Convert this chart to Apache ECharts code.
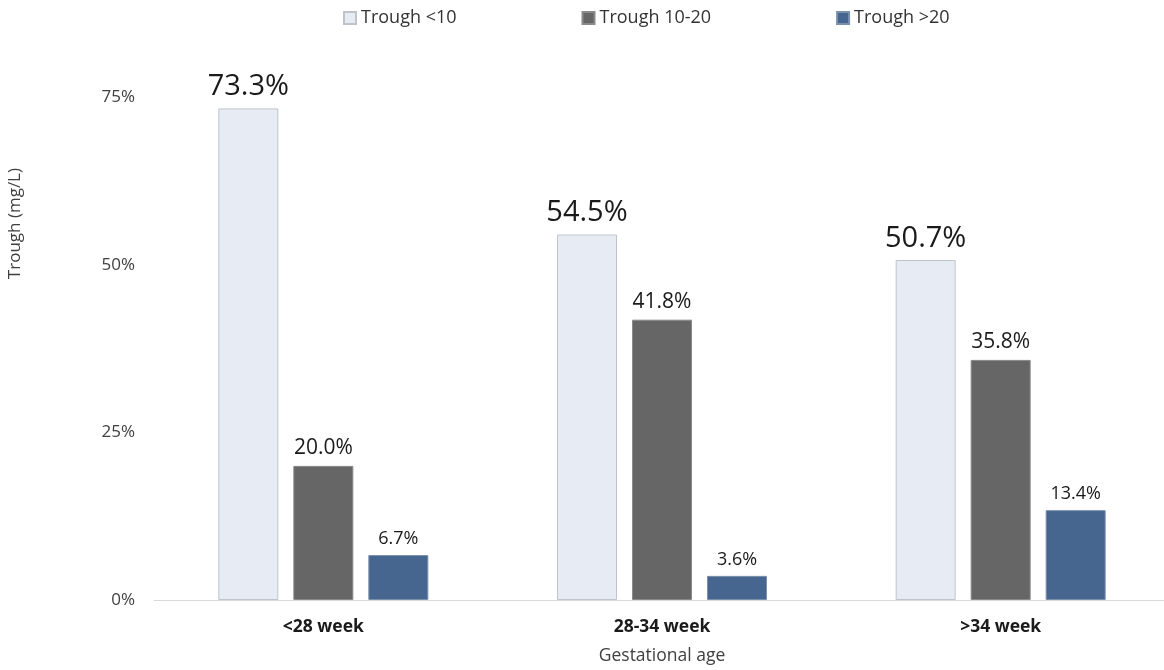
<!DOCTYPE html>
<html>
<head>
  <meta charset="utf-8">
</head>
<body style="margin: 0; overflow: hidden">
  <div id="container" style="width: 1172px; height: 670px"></div>

  <script type="text/javascript" src="https://cdn.jsdelivr.net/npm/echarts@6/dist/echarts.min.js"></script>
  <script type="text/javascript">
    var categories = ['<28 week', '28-34 week', '>34 week'];
    var troughLow = [73.3, 54.5, 50.7];
    var troughMid = [20.0, 41.8, 35.8];
    var troughHigh = [6.7, 3.6, 13.4];
    var yTicks = [0, 25, 50, 75];

    var font = 'Open Sans';
    var myChart = echarts.init(document.getElementById('container'), null, { renderer: 'canvas' });

    function pctLabel(size) {
      return {
        show: true,
        position: 'top',
        distance: 7,
        fontFamily: font,
        fontSize: size,
        color: '#1a1a1a',
        formatter: function (p) { return p.value.toFixed(1) + '%'; }
      };
    }

    var option = {
      textStyle: { fontFamily: font },
      legend: {
        top: 4,
        left: 338,
        itemWidth: 12,
        itemHeight: 12,
        itemGap: 125,
        icon: 'rect',
        textStyle: { fontFamily: font, fontSize: 18, color: '#333' },
        data: ['Trough <10', 'Trough 10-20', 'Trough >20']
      },
      grid: { left: 154, width: 1016, top: 97, bottom: 70 },
      xAxis: {
        type: 'category',
        data: categories,
        name: 'Gestational age',
        nameLocation: 'middle',
        nameGap: 47,
        nameTextStyle: { fontFamily: font, fontSize: 17.5, color: '#404040' },
        axisLine: { lineStyle: { color: '#d9d9d9', width: 1 } },
        axisTick: { show: false },
        axisLabel: { margin: 18, fontFamily: font, fontSize: 17.5, fontWeight: 'bold', color: '#1a1a1a' }
      },
      yAxis: {
        type: 'value',
        min: yTicks[0],
        max: yTicks[yTicks.length - 1],
        interval: 25,
        axisLine: { show: false },
        axisTick: { show: false },
        splitLine: { show: false },
        axisLabel: { margin: 19, fontFamily: font, fontSize: 17, color: '#404040', formatter: '{value}%' }
      },
      graphic: [{
        type: 'text',
        left: 7,
        top: 168,
        rotation: Math.PI / 2,
        style: { text: 'Trough (mg/L)', fontFamily: font, fontSize: 17, fill: '#404040' }
      }],
      series: [
        {
          name: 'Trough <10',
          type: 'bar',
          barWidth: 60,
          barGap: '25%',
          data: troughLow,
          itemStyle: { color: '#e7ecf4', borderColor: '#c0c4ca', borderWidth: 1 },
          label: pctLabel(29)
        },
        {
          name: 'Trough 10-20',
          type: 'bar',
          barWidth: 60,
          barGap: '25%',
          data: troughMid,
          itemStyle: { color: '#666666', borderColor: '#8a8a8a', borderWidth: 1 },
          label: pctLabel(21)
        },
        {
          name: 'Trough >20',
          type: 'bar',
          barWidth: 60,
          barGap: '25%',
          data: troughHigh,
          itemStyle: { color: '#46668f', borderColor: '#7a90ad', borderWidth: 1 },
          label: pctLabel(18)
        }
      ]
    };

    myChart.setOption(option);
  </script>
</body>
</html>
